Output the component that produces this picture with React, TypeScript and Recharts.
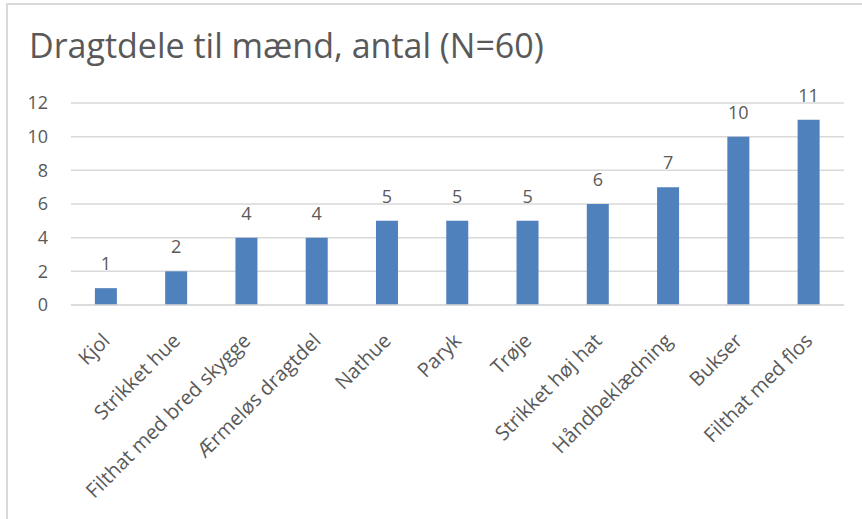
import React from "react";
import { BarChart, Bar, XAxis, YAxis, CartesianGrid, LabelList } from "recharts";

const categories = [
  "Kjol",
  "Strikket hue",
  "Filthat med bred skygge",
  "Ærmeløs dragtdel",
  "Nathue",
  "Paryk",
  "Trøje",
  "Strikket høj hat",
  "Håndbeklædning",
  "Bukser",
  "Filthat med flos",
];
const counts = [1, 2, 4, 4, 5, 5, 5, 6, 7, 10, 11];
const yTicks = [0, 2, 4, 6, 8, 10, 12];
const title = "Dragtdele til mænd, antal (N=60)";

const data = categories.map((name, i) => ({ name, value: counts[i] }));

const FONT = "'Open Sans', sans-serif";
const TEXT = "#595959";

const CatTick = (props: any) => {
  const { x, y, payload } = props;
  const ax = x + 5;
  const ay = y + 29;
  return (
    <text
      x={ax}
      y={ay}
      transform={`rotate(-45, ${ax}, ${ay})`}
      textAnchor="end"
      fill={TEXT}
      fontSize={20}
      fontFamily={FONT}
    >
      {payload.value}
    </text>
  );
};

export default function App() {
  return (
    <div
      style={{
        position: "absolute",
        left: 0,
        top: 0,
        width: 862,
        height: 519,
        overflow: "hidden",
        background: "#fff",
      }}
    >
      <div
        style={{
          position: "absolute",
          left: 6,
          top: 3,
          width: 900,
          height: 600,
          borderTop: "2px solid #D9D9D9",
          borderLeft: "2px solid #D9D9D9",
        }}
      />
      <div
        style={{
          position: "absolute",
          left: 29,
          top: 25,
          fontFamily: FONT,
          fontSize: 34,
          color: TEXT,
          whiteSpace: "nowrap",
          lineHeight: "40px",
        }}
      >
        {title}
      </div>
      <div style={{ position: "absolute", left: 0, top: 0 }}>
        <BarChart
          width={862}
          height={519}
          data={data}
          margin={{ top: 103, right: 18, bottom: 0, left: 0 }}
          barCategoryGap="34%"
        >
          <CartesianGrid vertical={false} stroke="#D9D9D9" strokeWidth={1.5} />
          <XAxis
            dataKey="name"
            height={214}
            interval={0}
            tickLine={false}
            axisLine={{ stroke: "#D9D9D9", strokeWidth: 1.5 }}
            tick={<CatTick />}
          />
          <YAxis
            width={71}
            domain={[0, 12]}
            ticks={yTicks}
            axisLine={false}
            tickLine={false}
            tickSize={0}
            tickMargin={23}
            tick={{ fill: TEXT, fontSize: 18, fontFamily: FONT }}
          />
          <Bar dataKey="value" fill="#4F81BD" isAnimationActive={false}>
            <LabelList
              dataKey="value"
              position="top"
              offset={18}
              fill={TEXT}
              fontSize={18}
              fontFamily={FONT}
            />
          </Bar>
        </BarChart>
      </div>
    </div>
  );
}
